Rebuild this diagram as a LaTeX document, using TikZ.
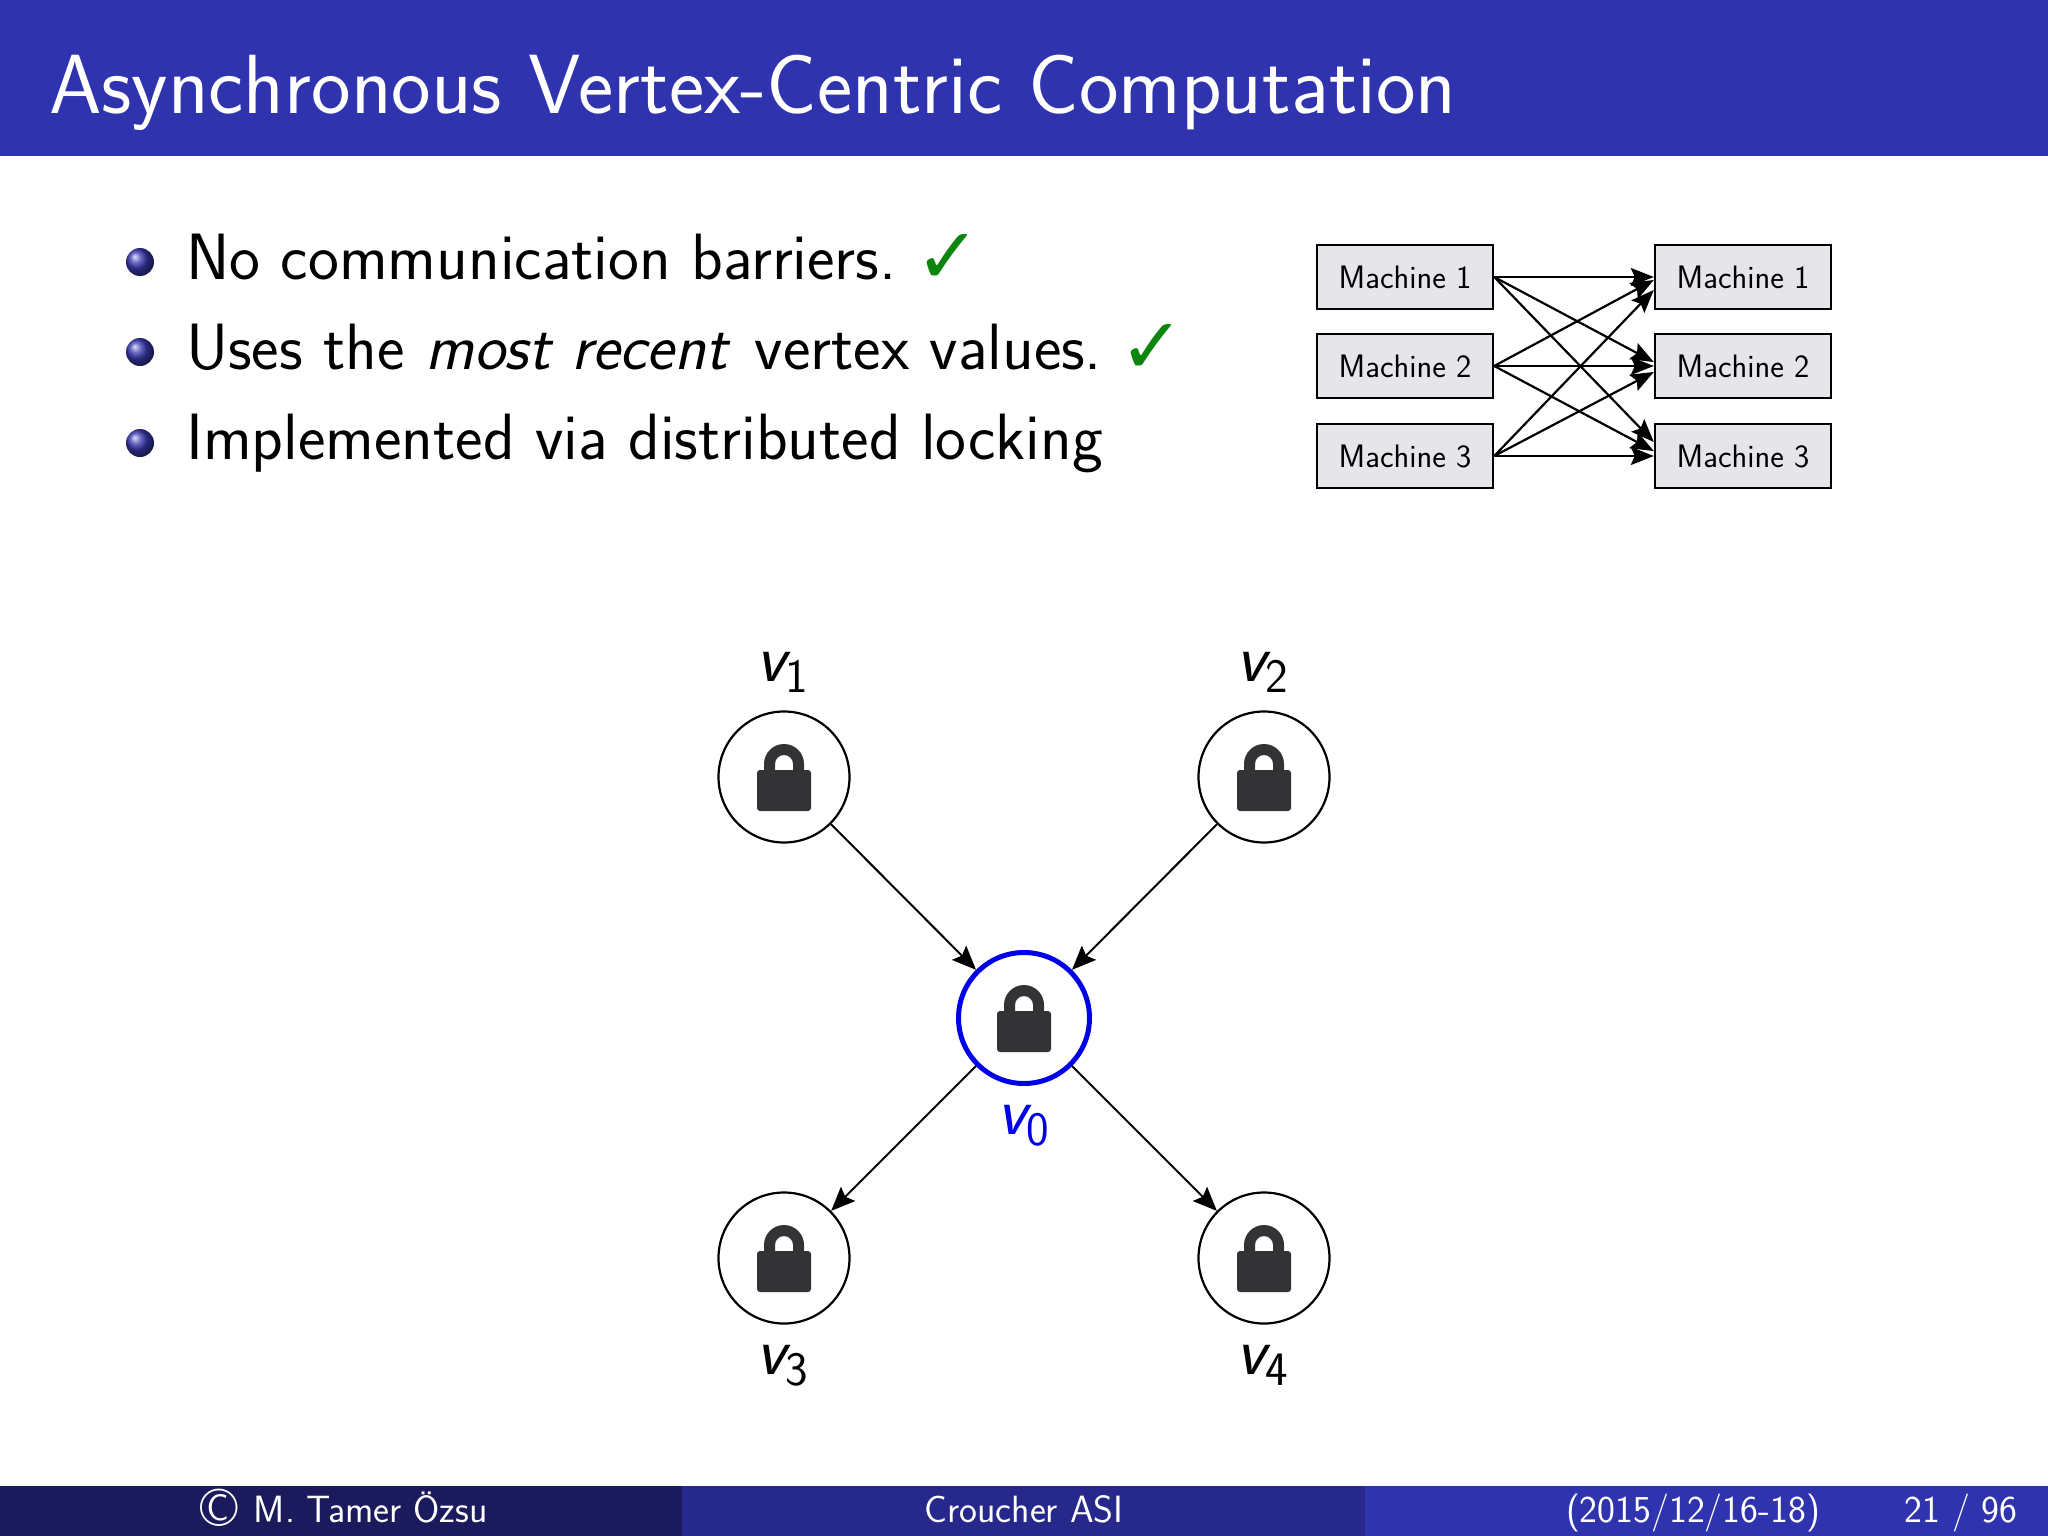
\documentclass[tikz,border=0pt]{standalone}
\usepackage{fontspec}
\usetikzlibrary{arrows.meta,shadings}
\newfontfamily\checkfont{DejaVu Sans}
\definecolor{barA}{HTML}{3033AE}
\definecolor{barB}{HTML}{26288B}
\definecolor{barC}{HTML}{1A1A5C}
\definecolor{boxfill}{HTML}{E6E6EA}
\definecolor{lockc}{HTML}{333235}
\definecolor{okgreen}{HTML}{0B850B}
\definecolor{vblue}{HTML}{0000E6}
\definecolor{ballc}{HTML}{3A3AB4}
\newcommand{\fs}[1]{\fontsize{#1}{#1}\selectfont}
\newcommand{\vsub}[1]{{\itshape v}\raisebox{-0.17em}{\fs{48}\upshape #1}}
\tikzset{
  machine/.style={draw=black,line width=2.4pt,fill=boxfill,minimum width=176pt,minimum height=64pt,inner sep=0pt,font=\sffamily\fs{32.5}},
  vertexc/.style={circle,draw=black,line width=2.2pt,minimum size=131pt,inner sep=0pt},
  vertexz/.style={circle,draw=vblue,line width=5pt,minimum size=131pt,inner sep=0pt},
  flow/.style={draw=black,line width=2pt,-{Stealth[length=24pt,width=20pt,inset=4pt]}},
  cross/.style={draw=black,line width=2.2pt,-{Stealth[length=23pt,width=18pt,inset=4pt]}},
  vlabel/.style={font=\sffamily\fs{68},inner sep=0pt,anchor=base},
  bullettext/.style={font=\sffamily\fs{65.5},inner sep=0pt,anchor=base west},
  foot/.style={font=\sffamily\fs{38},text=white,inner sep=0pt,anchor=base},
  lockglyph/.pic={
    \fill[lockc,even odd rule] (-20,-6) -- (-20,-13) arc[start angle=180,end angle=0,radius=20pt] -- (20,-6) -- (9,-6) -- (9,-13) arc[start angle=0,end angle=180,radius=9pt] -- (-9,-6) -- cycle;
    \fill[lockc,rounded corners=3pt] (-27,-7) rectangle (27,34);
  }
}
\begin{document}
\begin{tikzpicture}[x=1pt,y=-1pt]
\useasboundingbox (0,0) rectangle (2048,1536);
\fill[white] (0,0) rectangle (2048,1536);
\fill[barA] (0,0) rectangle (2048,156);
\node[font=\sffamily\fs{84},text=white,inner sep=0pt,anchor=base west] (title) at (49,114) {Asynchronous Vertex-Centric Computation};

\shade[ball color=ballc] (140,262) circle (14pt);
\shade[ball color=ballc] (140,352) circle (14pt);
\shade[ball color=ballc] (140,443) circle (14pt);
\node[bullettext] (b1) at (186,279.5) {No communication barriers.};
\node[bullettext] (b2) at (186,369.5) {Uses the {\itshape most recent}\kern 6pt{} vertex values.};
\node[bullettext] (b3) at (186,459.5) {Implemented via distributed locking};
\node[font=\checkfont\fs{78},text=okgreen,inner sep=0pt,anchor=base west] (c1) at (915,283) {✓};
\node[font=\checkfont\fs{78},text=okgreen,inner sep=0pt,anchor=base west] (c2) at (1119,373) {✓};

\node[machine] (m1) at (1405,277) {Machine 1};
\node[machine] (m2) at (1405,366) {Machine 2};
\node[machine] (m3) at (1405,456) {Machine 3};
\node[machine] (r1) at (1743,277) {Machine 1};
\node[machine] (r2) at (1743,366) {Machine 2};
\node[machine] (r3) at (1743,456) {Machine 3};
\draw[cross] (m1.east) -- (r1.west);
\draw[cross] (m1.east) -- ([yshift=4pt]r2.west);
\draw[cross] (m1.east) -- ([yshift=14pt]r3.west);
\draw[cross] (m2.east) -- ([yshift=-3pt]r1.west);
\draw[cross] (m2.east) -- (r2.west);
\draw[cross] (m2.east) -- ([yshift=5pt]r3.west);
\draw[cross] (m3.east) -- ([yshift=-13pt]r1.west);
\draw[cross] (m3.east) -- ([yshift=-6pt]r2.west);
\draw[cross] (m3.east) -- (r3.west);

\node[vertexz] (v0) at (1024,1018) {};
\node[vertexc] (v1) at (784,777) {};
\node[vertexc] (v2) at (1264,777) {};
\node[vertexc] (v3) at (784,1258) {};
\node[vertexc] (v4) at (1264,1258) {};
\pic at (v0) {lockglyph};
\pic at (v1) {lockglyph};
\pic at (v2) {lockglyph};
\pic at (v3) {lockglyph};
\pic at (v4) {lockglyph};
\draw[flow] (v1) -- (v0);
\draw[flow] (v2) -- (v0);
\draw[flow] (v0) -- (v3);
\draw[flow] (v0) -- (v4);
\node[vlabel] (l1) at (782,681) {\vsub{1}};
\node[vlabel] (l2) at (1262,681) {\vsub{2}};
\node[vlabel,text=vblue] (l0) at (1023,1134) {\vsub{0}};
\node[vlabel] (l3) at (782,1374) {\vsub{3}};
\node[vlabel] (l4) at (1262,1374) {\vsub{4}};

\fill[barC] (0,1486) rectangle (682,1536);
\fill[barB] (682,1486) rectangle (1365,1536);
\fill[barA] (1365,1486) rectangle (2048,1536);
\node[foot] (f1) at (344,1522) {{\fs{54}\raisebox{-0.08em}{\textcopyright}}\kern 4pt{} M. Tamer Özsu};
\node[foot] (f2) at (1024,1522) {Croucher ASI};
\node[foot] (f3) at (1693,1522) {(2015/12/16-18)};
\node[foot] (f4) at (1961,1522) {21 / 96};
\end{tikzpicture}
\end{document}
